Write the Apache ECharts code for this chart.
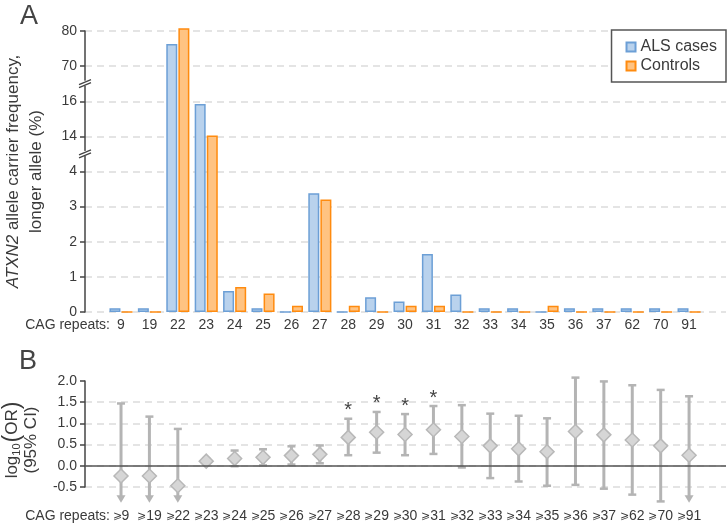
<!DOCTYPE html>
<html>
<head>
<meta charset="utf-8">
<script src="https://cdn.jsdelivr.net/npm/echarts@6.0.0/dist/echarts.min.js"></script>
<style>
  html, body { margin: 0; padding: 0; background: #fff; }
  #chart { width: 728px; height: 526px; }
</style>
</head>
<body>
<div id="chart"></div>
<script>
  // CAG repeat categories (shared by both panels)
  const cagRepeats = ['9', '19', '22', '23', '24', '25', '26', '27', '28', '29', '30',
    '31', '32', '33', '34', '35', '36', '37', '62', '70', '91'];

  // Panel A: allele carrier frequency, longer allele (%)
  const alsCases = [0.11, 0.11, 76.3, 15.85, 0.6, 0.11, 0, 3.38, 0, 0.42, 0.3,
    1.65, 0.5, 0.11, 0.11, 0, 0.11, 0.11, 0.11, 0.11, 0.11];
  const controls = [0, 0, 80.8, 14.05, 0.71, 0.53, 0.18, 3.2, 0.18, 0, 0.18,
    0.18, 0, 0, 0, 0.18, 0, 0, 0, 0, 0];
  const yTickLabels = ['0', '1', '2', '3', '4', '14', '16', '70', '80'];

  // Panel B: log10(OR) with 95% CI, null lower = open-ended (arrow)
  const logOR = [-0.24, -0.24, -0.47, 0.11, 0.17, 0.2, 0.24, 0.27, 0.67, 0.79, 0.74,
    0.85, 0.69, 0.47, 0.40, 0.33, 0.81, 0.73, 0.61, 0.47, 0.25];
  const ciHigh = [1.47, 1.16, 0.87, 0.18, 0.36, 0.39, 0.46, 0.48, 1.11, 1.27, 1.22,
    1.41, 1.43, 1.23, 1.18, 1.12, 2.08, 1.99, 1.90, 1.79, 1.64];
  const ciLow = [null, null, null, 0.04, -0.01, 0.01, 0.03, 0.06, 0.25, 0.31, 0.25,
    0.28, -0.04, -0.29, -0.37, -0.47, -0.45, -0.54, -0.68, -0.84, null];
  const significant = [0, 0, 0, 0, 0, 0, 0, 0, 1, 1, 1, 1, 0, 0, 0, 0, 0, 0, 0, 0, 0];
  const arrowEnd = -0.87;

  const font = "'Liberation Sans', Arial, sans-serif";
  const textColor = '#3a3a3a';
  const xMin = -1.268, xMax = 21.30;

  // piecewise mapping for the broken y axis of panel A
  function brokenY(v) {
    if (v <= 4) return v;
    if (v < 14) return 4 + (v - 4) / 10;
    if (v <= 16) return 5 + (v - 14) / 2;
    if (v < 70) return 6 + (v - 16) / 54;
    return 7 + (v - 70) / 10;
  }

  const idx = cagRepeats.map((c, i) => i);
  const splitDash = { show: true, lineStyle: { color: '#dcdcdc', width: 1.5, type: [7, 5] } };

  const chart = echarts.init(document.getElementById('chart'));

  const option = {
    animation: false,
    textStyle: { fontFamily: font },
    grid: [
      { left: 85, right: 2, top: 31, height: 281, outerBoundsMode: 'none' },
      { left: 85, right: 2, top: 381, height: 106, outerBoundsMode: 'none' }
    ],
    legend: {
      data: ['ALS cases', 'Controls'],
      orient: 'vertical',
      right: 2,
      top: 30,
      icon: 'rect',
      itemWidth: 9,
      itemHeight: 9,
      itemGap: 3,
      padding: [9, 9, 8, 14],
      borderColor: '#555',
      borderWidth: 1.5,
      backgroundColor: '#fff',
      textStyle: { fontSize: 16, color: textColor, fontFamily: font }
    },
    xAxis: [
      {
        gridIndex: 0, type: 'value', min: xMin, max: xMax,
        axisLine: { show: false }, axisTick: { show: false }, splitLine: { show: false },
        axisLabel: {
          customValues: idx, formatter: v => cagRepeats[Math.round(v)],
          fontSize: 14, color: textColor, margin: 6, fontFamily: font
        }
      },
      {
        gridIndex: 1, type: 'value', min: xMin, max: xMax,
        axisLine: { show: false }, axisTick: { show: false }, splitLine: { show: false },
        axisLabel: {
          customValues: idx, formatter: v => '{g|\u2A7E}' + cagRepeats[Math.round(v)],
          fontSize: 14, color: textColor, margin: 22, fontFamily: font,
          rich: { g: { fontSize: 11, color: textColor, fontFamily: font } }
        }
      }
    ],
    yAxis: [
      {
        gridIndex: 0, type: 'value', min: 0, max: 8, interval: 1,
        axisLine: { show: true, onZero: false, lineStyle: { color: '#444', width: 1.5 } },
        axisTick: { show: true, length: 5, lineStyle: { color: '#444', width: 1.5 } },
        axisLabel: { formatter: v => yTickLabels[v], fontSize: 14, color: textColor, margin: 8 },
        splitLine: splitDash,
        name: '{i|ATXN2} allele carrier frequency,\nlonger allele (%)',
        nameLocation: 'middle',
        nameRotate: 90,
        nameGap: 37,
        nameTextStyle: {
          fontSize: 17, lineHeight: 23, color: textColor, fontFamily: font,
          rich: { i: { fontStyle: 'italic', fontSize: 17, lineHeight: 23, color: textColor, fontFamily: font } }
        }
      },
      {
        gridIndex: 1, type: 'value', min: -0.5, max: 2.0, interval: 0.5,
        axisLine: { show: true, onZero: false, lineStyle: { color: '#444', width: 1.5 } },
        axisTick: { show: true, length: 5, lineStyle: { color: '#444', width: 1.5 } },
        axisLabel: { formatter: v => v.toFixed(1), fontSize: 14, color: textColor, margin: 8 },
        splitLine: Object.assign({ showMaxLine: false }, splitDash),
        name: '{t|log}{s|10}{p|(}{t|OR}{p|)}\n{t|(95% CI)}',
        nameLocation: 'middle',
        nameRotate: 90,
        nameGap: 44,
        nameTextStyle: {
          fontSize: 17, lineHeight: 19, color: textColor, fontFamily: font,
          padding: [0, 12, 0, 0],
          rich: {
            t: { fontSize: 17, color: textColor, fontFamily: font, verticalAlign: 'middle' },
            s: { fontSize: 11, color: textColor, fontFamily: font, verticalAlign: 'bottom', padding: [6, 1, 0, 0] },
            p: { fontSize: 23, color: textColor, fontFamily: font, verticalAlign: 'middle' }
          }
        }
      }
    ],
    series: [
      {
        name: 'ALS cases', type: 'bar', xAxisIndex: 0, yAxisIndex: 0,
        barWidth: 11, barGap: '10%', clip: false,
        itemStyle: { color: '#b9d2ed', borderColor: '#6c9fd6', borderWidth: 1.5 },
        data: alsCases.map((v, i) => [i, brokenY(v)])
      },
      {
        name: 'Controls', type: 'bar', xAxisIndex: 0, yAxisIndex: 0,
        barWidth: 11, barGap: '10%', clip: false,
        itemStyle: { color: '#ffc382', borderColor: '#ff8b0f', borderWidth: 1.5 },
        data: controls.map((v, i) => [i, brokenY(v)])
      },
      {
        type: 'custom', xAxisIndex: 1, yAxisIndex: 1, clip: false,
        data: logOR.map((v, i) => [i, v, ciLow[i] === null ? arrowEnd : ciLow[i], ciHigh[i],
          ciLow[i] === null ? 1 : 0, significant[i]]),
        markLine: {
          silent: true, symbol: 'none', label: { show: false },
          lineStyle: { color: '#555', width: 1.5, type: 'solid' },
          data: [{ yAxis: 0 }]
        },
        renderItem(params, api) {
          const x = api.value(0);
          const pE = api.coord([x, api.value(1)]);
          const pL = api.coord([x, api.value(2)]);
          const pH = api.coord([x, api.value(3)]);
          const arrow = api.value(4) === 1;
          const star = api.value(5) === 1;
          const grey = '#b4b4b4';
          const cx = pE[0];
          const children = [];
          const bottom = arrow ? pL[1] - 6 : pL[1];
          children.push({ type: 'line', shape: { x1: cx, y1: pH[1], x2: cx, y2: bottom },
            style: { stroke: grey, lineWidth: 3 } });
          children.push({ type: 'line', shape: { x1: cx - 4, y1: pH[1], x2: cx + 4, y2: pH[1] },
            style: { stroke: grey, lineWidth: 2.5 } });
          if (arrow) {
            children.push({ type: 'polygon', shape: { points: [[cx - 4.5, pL[1] - 7.5], [cx + 4.5, pL[1] - 7.5], [cx, pL[1]]] },
              style: { fill: grey } });
          } else {
            children.push({ type: 'line', shape: { x1: cx - 4, y1: pL[1], x2: cx + 4, y2: pL[1] },
              style: { stroke: grey, lineWidth: 2.5 } });
          }
          children.push({ type: 'polygon', shape: { points: [[cx, pE[1] - 7], [cx + 7, pE[1]], [cx, pE[1] + 7], [cx - 7, pE[1]]] },
            style: { fill: '#d6d6d6', stroke: '#b8b8b8', lineWidth: 1.5 } });
          if (star) {
            children.push({ type: 'text', x: cx, y: pH[1] - 8,
              style: { text: '*', fill: '#444', font: '20px ' + font, align: 'center', verticalAlign: 'middle' } });
          }
          return { type: 'group', children };
        }
      }
    ],
    graphic: [
      { type: 'text', left: 20, top: 3, style: { text: 'A', font: '27px ' + font, fill: '#444' } },
      { type: 'text', left: 19, top: 348, style: { text: 'B', font: '27px ' + font, fill: '#444' } },
      { type: 'text', x: 110, y: 325, style: { text: 'CAG repeats:', font: '14px ' + font, fill: textColor, align: 'right', verticalAlign: 'middle' } },
      { type: 'text', x: 110, y: 516, style: { text: 'CAG repeats:', font: '14px ' + font, fill: textColor, align: 'right', verticalAlign: 'middle' } }
    ]
  };

  chart.setOption(option);

  // break marks on panel A y axis
  const axisX = chart.convertToPixel({ xAxisIndex: 0 }, xMin);
  const breaks = [4.5, 6.5].map(d => chart.convertToPixel({ yAxisIndex: 0 }, d));
  const breakGraphics = [];
  breaks.forEach(by => {
    breakGraphics.push({ type: 'rect', shape: { x: axisX - 3, y: by - 3, width: 6, height: 5 }, style: { fill: '#fff' }, z: 100 });
    breakGraphics.push({ type: 'line', shape: { x1: axisX - 6, y1: by + 4, x2: axisX + 6, y2: by - 1 }, style: { stroke: '#444', lineWidth: 1.3 }, z: 101 });
    breakGraphics.push({ type: 'line', shape: { x1: axisX - 6, y1: by + 1, x2: axisX + 6, y2: by - 4 }, style: { stroke: '#444', lineWidth: 1.3 }, z: 101 });
  });
  chart.setOption({ graphic: option.graphic.concat(breakGraphics) });
</script>
</body>
</html>
